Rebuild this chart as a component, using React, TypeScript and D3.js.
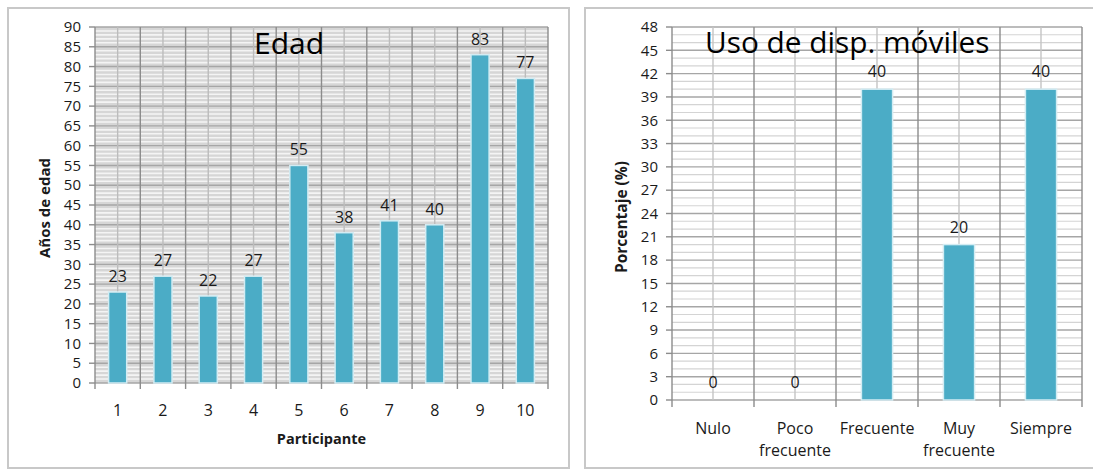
import * as d3 from 'd3';

// Edad chart
const participants = ['1', '2', '3', '4', '5', '6', '7', '8', '9', '10'];
const ages = [23, 27, 22, 27, 55, 38, 41, 40, 83, 77];
const ageTicks = d3.range(0, 91, 5);

// Uso de dispositivos móviles
const usageCats = [['Nulo'], ['Poco', 'frecuente'], ['Frecuente'], ['Muy', 'frecuente'], ['Siempre']];
const usagePct = [0, 0, 40, 20, 40];
const pctTicks = d3.range(0, 49, 3);

const FONT = '"Open Sans", Lato, sans-serif';
const BAR = '#4bacc6';
const TEXT = '#1a1a1a';
const FS = 16;
const TICK_FS = 15;

function EdadChart() {
    const left = 95, right = 548, top = 27, bottom = 383;
    const x = d3.scaleBand<string>().domain(participants).range([left, right]);
    const y = d3.scaleLinear().domain([0, 90]).range([bottom, top]);
    const bw = x.bandwidth() * 0.4;
    const minor = d3.range(0, 91, 1).filter(v => v % 5 !== 0);

    return (
        <g>
            <rect x={8} y={8} width={561} height={460} fill="#fff" stroke="#c8c8c8" strokeWidth={2} />
            <rect x={left} y={top} width={right - left} height={bottom - top} fill="#d6d6d6" />
            {minor.map(v => (
                <line key={'m' + v} x1={left} x2={right} y1={y(v)} y2={y(v)} stroke="#f4f4f4" strokeWidth={1.6} />
            ))}
            {ageTicks.map(v => (
                <line key={'M' + v} x1={left} x2={right} y1={y(v)} y2={y(v)} stroke="#a6a6a6" strokeWidth={1.4} />
            ))}
            {participants.map(p => (
                <line key={'c' + p} x1={x(p)! + x.bandwidth() / 2} x2={x(p)! + x.bandwidth() / 2}
                    y1={top} y2={bottom} stroke="#bcbcbc" strokeWidth={1.4} />
            ))}
            {participants.concat(['end']).map((p, i) => {
                const xv = left + i * x.bandwidth();
                return (
                    <g key={'b' + p}>
                        <line x1={xv} x2={xv} y1={top} y2={bottom} stroke="#8c8c8c" strokeWidth={1.4} />
                        <line x1={xv} x2={xv} y1={bottom} y2={bottom + 6} stroke="#8c8c8c" strokeWidth={1.4} />
                    </g>
                );
            })}
            {ageTicks.map(v => (
                <g key={'t' + v}>
                    <line x1={left - 6} x2={left} y1={y(v)} y2={y(v)} stroke="#8c8c8c" strokeWidth={1.4} />
                    <text x={left - 14} y={y(v)} dy="0.35em" textAnchor="end" fontSize={TICK_FS} fill={TEXT} fontFamily={FONT}>{v}</text>
                </g>
            ))}
            {participants.map((p, i) => {
                const cx = x(p)! + x.bandwidth() / 2;
                return (
                    <g key={'bar' + p}>
                        <rect x={cx - bw / 2} y={y(ages[i])} width={bw} height={bottom - y(ages[i])}
                            fill={BAR} stroke="#d3ecf3" strokeWidth={1.5} />
                        <text x={cx} y={y(ages[i]) - 10} textAnchor="middle" fontSize={FS} fill={TEXT} fontFamily={FONT}>{ages[i]}</text>
                        <text x={cx} y={410} dy="0.35em" textAnchor="middle" fontSize={FS} fill={TEXT} fontFamily={FONT}>{p}</text>
                    </g>
                );
            })}
            <text x={289} y={54} textAnchor="middle" fontSize={30} fill="#000" fontFamily={FONT}>Edad</text>
            <text x={(left + right) / 2} y={439} dy="0.35em" textAnchor="middle" fontSize={14.5} fontWeight="bold" fill={TEXT} fontFamily={FONT}>Participante</text>
            <text transform={`translate(45,208) rotate(-90)`} dy="0.35em" textAnchor="middle" fontSize={15} fontWeight="bold" fill={TEXT} fontFamily={FONT}>Años de edad</text>
        </g>
    );
}

function UsoChart() {
    const left = 672, right = 1082, top = 27, bottom = 400;
    const keys = usageCats.map(c => c.join(' '));
    const x = d3.scaleBand<string>().domain(keys).range([left, right]);
    const y = d3.scaleLinear().domain([0, 48]).range([bottom, top]);
    const bw = x.bandwidth() * 0.38;
    const minor = d3.range(0, 49, 1).filter(v => v % 3 !== 0);

    return (
        <g>
            <rect x={585} y={8} width={520} height={460} fill="#fff" stroke="#c8c8c8" strokeWidth={2} />
            {minor.map(v => (
                <line key={'m' + v} x1={left} x2={right} y1={y(v)} y2={y(v)} stroke="#d4d4d4" strokeWidth={1.2} />
            ))}
            {pctTicks.map(v => (
                <line key={'M' + v} x1={left} x2={right} y1={y(v)} y2={y(v)} stroke="#a6a6a6" strokeWidth={1.4} />
            ))}
            {keys.map(k => (
                <line key={'c' + k} x1={x(k)! + x.bandwidth() / 2} x2={x(k)! + x.bandwidth() / 2}
                    y1={top} y2={bottom} stroke="#c4c4c4" strokeWidth={1.4} />
            ))}
            {keys.concat(['end']).map((k, i) => {
                const xv = left + i * x.bandwidth();
                return (
                    <g key={'b' + k}>
                        <line x1={xv} x2={xv} y1={top} y2={bottom} stroke="#8c8c8c" strokeWidth={1.4} />
                        <line x1={xv} x2={xv} y1={bottom} y2={bottom + 7} stroke="#8c8c8c" strokeWidth={1.4} />
                    </g>
                );
            })}
            {pctTicks.map(v => (
                <g key={'t' + v}>
                    <line x1={left - 6} x2={left} y1={y(v)} y2={y(v)} stroke="#8c8c8c" strokeWidth={1.4} />
                    <text x={left - 14} y={y(v)} dy="0.35em" textAnchor="end" fontSize={TICK_FS} fill={TEXT} fontFamily={FONT}>{v}</text>
                </g>
            ))}
            {keys.map((k, i) => {
                const cx = x(k)! + x.bandwidth() / 2;
                return (
                    <g key={'bar' + k}>
                        {usagePct[i] > 0 && (
                            <rect x={cx - bw / 2} y={y(usagePct[i])} width={bw} height={bottom - y(usagePct[i])}
                                fill={BAR} stroke="#d3ecf3" strokeWidth={1.5} />
                        )}
                        <text x={cx} y={y(usagePct[i]) - 12} textAnchor="middle" fontSize={FS} fill={TEXT} fontFamily={FONT}>{usagePct[i]}</text>
                        {usageCats[i].map((line, j) => (
                            <text key={j} x={cx} y={428 + j * 22} dy="0.35em" textAnchor="middle" fontSize={FS} fill={TEXT} fontFamily={FONT}>{line}</text>
                        ))}
                    </g>
                );
            })}
            <text x={705} y={53} fontSize={29.8} fill="#000" fontFamily={FONT}>Uso de disp. móviles</text>
            <text transform={`translate(622,217) rotate(-90)`} dy="0.35em" textAnchor="middle" fontSize={15.5} fontWeight="bold" fill={TEXT} fontFamily={FONT}>Porcentaje (%)</text>
        </g>
    );
}

export default function App() {
    return (
        <svg width={1093} height={470} style={{ position: 'absolute', left: 0, top: 0, background: '#fff' }}>
            <EdadChart />
            <UsoChart />
        </svg>
    );
}
